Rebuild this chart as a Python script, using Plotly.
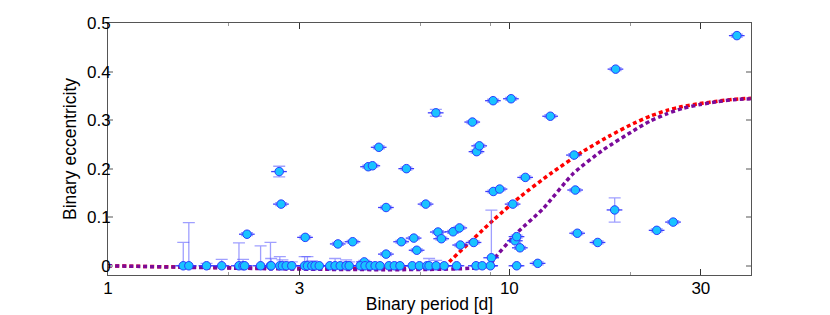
import plotly.graph_objects as go

# Non-zero eccentricity systems
period_nz = [2.22, 2.67, 2.70, 3.10, 3.74, 4.07, 4.35, 4.45, 4.56, 4.73, 4.93, 4.93,
             5.38, 5.54, 5.78, 5.88, 6.19, 6.56, 6.64, 6.77, 7.24, 7.51, 7.55, 8.09,
             8.15, 8.29, 8.42, 9.02, 9.11, 9.12, 9.46, 10.1, 10.2, 10.33, 10.43, 10.63,
             10.96, 11.77, 12.65, 14.5, 14.6, 14.77, 16.6, 18.3, 18.4, 23.3, 25.6, 36.9]
ecc_nz = [0.065, 0.194, 0.127, 0.0585, 0.045, 0.0495, 0.008, 0.204, 0.206, 0.244, 0.120, 0.024,
          0.0495, 0.200, 0.057, 0.032, 0.127, 0.315, 0.0695, 0.0557, 0.070, 0.078, 0.0427, 0.296,
          0.048, 0.235, 0.247, 0.0165, 0.340, 0.153, 0.158, 0.344, 0.127, 0.0515, 0.060, 0.037,
          0.182, 0.005, 0.308, 0.228, 0.156, 0.067, 0.048, 0.115, 0.405, 0.073, 0.090, 0.474]
err_up_nz = [0.003, 0.011, 0.003, 0.003, 0.003, 0.003, 0.003, 0.003, 0.003, 0.003, 0.003, 0.003,
             0.003, 0.003, 0.003, 0.003, 0.003, 0.007, 0.003, 0.003, 0.003, 0.003, 0.003, 0.003,
             0.003, 0.003, 0.003, 0.098, 0.003, 0.003, 0.003, 0.003, 0.003, 0.003, 0.003, 0.003,
             0.003, 0.003, 0.003, 0.003, 0.003, 0.003, 0.003, 0.025, 0.003, 0.003, 0.003, 0.003]
err_dn_nz = [0.003, 0.011, 0.003, 0.003, 0.003, 0.003, 0.003, 0.003, 0.003, 0.003, 0.003, 0.003,
             0.003, 0.003, 0.003, 0.003, 0.003, 0.007, 0.003, 0.003, 0.003, 0.003, 0.003, 0.003,
             0.003, 0.003, 0.003, 0.0165, 0.003, 0.003, 0.003, 0.003, 0.003, 0.003, 0.003, 0.003,
             0.003, 0.003, 0.003, 0.003, 0.003, 0.003, 0.003, 0.025, 0.003, 0.003, 0.003, 0.003]

# Circular (e = 0) systems with upper error
period_zero = [1.54, 1.59, 1.76, 1.92, 2.12, 2.17, 2.19, 2.40, 2.54, 2.55, 2.68, 2.72,
               2.78, 2.87, 3.09, 3.14, 3.22, 3.28, 3.36, 3.57, 3.68, 3.79, 3.92, 3.99,
               4.25, 4.37, 4.50, 4.63, 4.76, 5.01, 5.17, 5.34, 5.73, 5.97, 6.23, 6.31,
               6.57, 6.88, 7.39, 8.26, 8.56, 8.97, 10.43]
err_up_zero = [0.048, 0.089, 0.005, 0.013, 0.047, 0.013, 0.0, 0.041, 0.048, 0.015, 0.019, 0.012,
               0.0, 0.008, 0.019, 0.019, 0.010, 0.0, 0.0, 0.0, 0.015, 0.0, 0.012, 0.008,
               0.0, 0.0, 0.0, 0.0, 0.0, 0.0, 0.0, 0.0, 0.0, 0.0, 0.0, 0.015,
               0.011, 0.0, 0.0, 0.0, 0.0, 0.0, 0.0]
ecc_zero = [0.0] * len(period_zero)

# Model curves
red_p = [1.0, 6.92, 7.12, 9.12, 10.63, 12.63, 15.29, 17.82, 20.37, 22.4, 24.67, 27.0, 29.87, 33.0, 36.15, 40.0]
red_e = [0.0, 0.0, 0.010, 0.094, 0.142, 0.189, 0.236, 0.268, 0.293, 0.308, 0.320, 0.328, 0.334, 0.339, 0.343, 0.345]
pur_p = [1.0, 8.95, 9.12, 10.43, 12.15, 14.43, 17.15, 20.37, 22.4, 24.67, 27.0, 29.87, 33.0, 36.15, 40.0]
pur_e = [0.0, 0.0, 0.012, 0.067, 0.118, 0.190, 0.239, 0.278, 0.298, 0.313, 0.324, 0.332, 0.338, 0.342, 0.344]

x_ticks = [1, 3, 10, 30]
y_ticks = [0, 0.1, 0.2, 0.3, 0.4, 0.5]
y_ticktext = ["0", "0.1", "0.2", "0.3", "0.4", "0.5"]

xerr_frac = 0.045

all_p = period_nz + period_zero
all_e = ecc_nz + ecc_zero
all_up = err_up_nz + err_up_zero
all_dn = err_dn_nz + [0.0] * len(period_zero)
all_xe = [p * xerr_frac for p in all_p]

fig = go.Figure()
fig.add_trace(go.Scatter(x=red_p, y=red_e, mode="lines", line_shape="spline",
                         line=dict(color="#ff0000", width=3.5, dash="4px,3px", smoothing=0.6),
                         hoverinfo="skip", showlegend=False))
fig.add_trace(go.Scatter(x=pur_p, y=pur_e, mode="lines", line_shape="spline",
                         line=dict(color="#7a0a9a", width=3.5, dash="4px,3px", smoothing=0.6),
                         hoverinfo="skip", showlegend=False))
fig.add_trace(go.Scatter(
    x=all_p, y=all_e, mode="markers",
    marker=dict(size=8.5, color="#19c3ff", line=dict(color="#2a3cff", width=1)),
    error_y=dict(type="data", symmetric=False, array=all_up, arrayminus=all_dn,
                 color="rgba(80,80,255,0.55)", thickness=1.3, width=6),
    error_x=dict(type="data", array=all_xe, color="rgba(40,40,255,0.9)",
                 thickness=1.3, width=0),
    showlegend=False))

fig.update_layout(
    width=830, height=315,
    margin=dict(l=100, r=87, t=15, b=48),
    paper_bgcolor="white", plot_bgcolor="white",
    font=dict(family="Liberation Sans, Arial, sans-serif", size=17, color="#000"),
    xaxis=dict(type="log", range=[0, 1.6021], tickvals=x_ticks,
               ticktext=[str(v) for v in x_ticks], automargin=False,
               ticks="inside", ticklen=6, tickcolor="#333", tickwidth=1,
               ticklabelstandoff=-2,
               minor=dict(tickvals=[2, 6, 9, 20], ticks="inside", ticklen=3,
                          tickcolor="#999", showgrid=False),
               showline=True, linecolor="#555", linewidth=1, mirror="ticks",
               showgrid=False, zeroline=False,
               title=dict(text="Binary period [d]", standoff=0, font=dict(size=17.5))),
    yaxis=dict(range=[-0.019, 0.5], tickvals=y_ticks, ticktext=y_ticktext,
               automargin=False,
               ticks="inside", ticklen=5, tickcolor="#aaa", tickwidth=1.5,
               ticklabelstandoff=-7,
               showline=True, linecolor="#555", linewidth=1, mirror="ticks",
               showgrid=False, zeroline=False,
               title=dict(text="Binary eccentricity", standoff=5, font=dict(size=17.5))),
)

fig.write_html("out.html")
